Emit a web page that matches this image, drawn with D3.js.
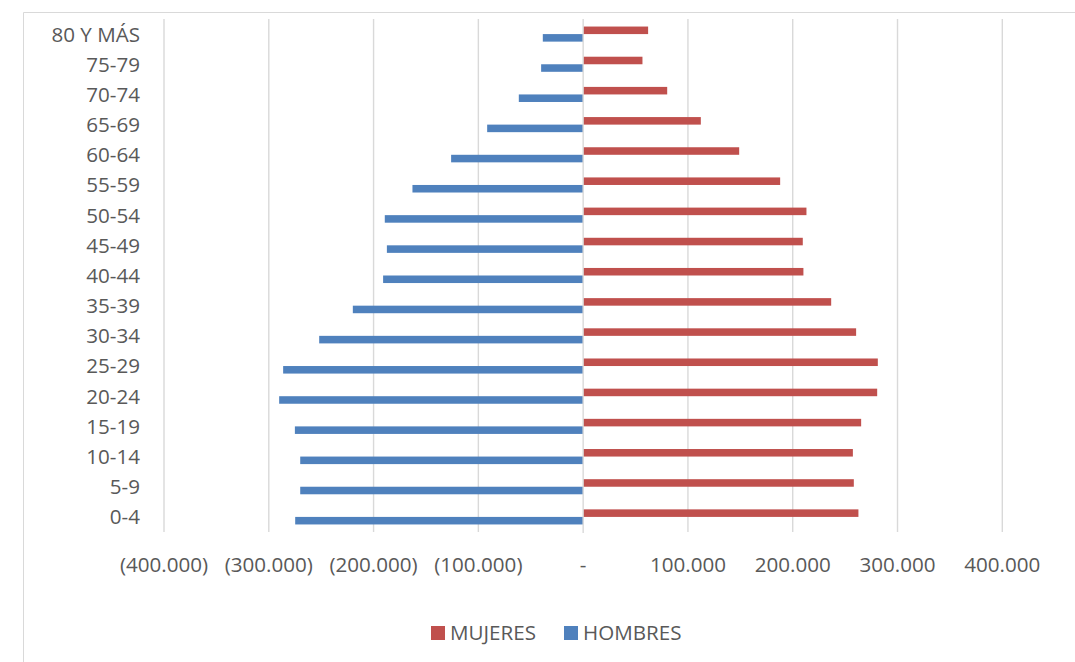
<!DOCTYPE html>
<html>
<head>
<meta charset="utf-8">
<script src="https://cdn.jsdelivr.net/npm/d3@7"></script>
<style>
  body { margin: 0; background: #fff; }
  svg { display: block; }
  text { font-family: "Open Sans", "Liberation Sans", sans-serif; fill: #595959; }
</style>
</head>
<body>
<div id="chart"></div>
<script>
// age groups, top row first
const ageGroups = ["80 Y MÁS", "75-79", "70-74", "65-69", "60-64", "55-59", "50-54", "45-49",
    "40-44", "35-39", "30-34", "25-29", "20-24", "15-19", "10-14", "5-9", "0-4"];

const mujeres = [62000, 56600, 80200, 112300, 148900, 188000, 213100, 209600,
    210200, 236700, 260500, 281200, 280600, 265300, 257400, 258300, 262700];

// men drawn to the left (negative)
const hombres = [-38500, -40100, -61400, -91600, -126000, -162900, -189300, -187300,
    -190900, -219800, -251900, -286300, -290100, -275100, -270000, -270000, -274800];

const series = ["MUJERES", "HOMBRES"];
const seriesColors = ["#C0504D", "#4F81BD"];
const xTicks = [-400000, -300000, -200000, -100000, 0, 100000, 200000, 300000, 400000];

const width = 1075, height = 662;
const fontSize = "20.6px";

const svg = d3.select("#chart").append("svg")
    .attr("width", width)
    .attr("height", height);

// chart area frame (only top and left edges are visible in the picture)
svg.append("line")
    .attr("x1", 23.5).attr("x2", width).attr("y1", 12.5).attr("y2", 12.5)
    .attr("stroke", "#d9d9d9");
svg.append("line")
    .attr("x1", 23.5).attr("x2", 23.5).attr("y1", 12.5).attr("y2", height)
    .attr("stroke", "#d9d9d9");

const x = d3.scaleLinear()
    .domain([-400000, 400000])
    .range([164, 1002.3]);

const y = d3.scaleBand()
    .domain(ageGroups)
    .range([19, 532]);

const ySub = d3.scaleBand()
    .domain(series)
    .range([0, y.bandwidth()])
    .paddingOuter(1);

const fmt = d => {
    if (d === 0) return "-";
    const s = d3.format(",")(Math.abs(d)).replace(/,/g, ".");
    return d < 0 ? `(${s})` : s;
};

// gridlines
svg.append("g")
    .selectAll("line")
    .data(xTicks.filter(d => d !== 0))
    .enter()
    .append("line")
    .attr("x1", d => x(d)).attr("x2", d => x(d))
    .attr("y1", 19).attr("y2", 532)
    .attr("stroke", "#d9d9d9")
    .attr("stroke-width", 1.4);

// tick labels
svg.append("g")
    .selectAll("text")
    .data(xTicks)
    .enter()
    .append("text")
    .attr("x", d => x(d))
    .attr("y", 572)
    .attr("text-anchor", "middle")
    .style("font-size", fontSize)
    .text(fmt);

// bars
const rows = ageGroups.map((g, i) => ({ g, m: mujeres[i], h: hombres[i] }));

svg.append("g")
    .selectAll("rect")
    .data(rows)
    .enter()
    .append("rect")
    .attr("x", d => x(0))
    .attr("y", d => y(d.g) + ySub("MUJERES"))
    .attr("width", d => x(d.m) - x(0))
    .attr("height", ySub.bandwidth())
    .attr("fill", seriesColors[0]);

svg.append("g")
    .selectAll("rect")
    .data(rows)
    .enter()
    .append("rect")
    .attr("x", d => x(d.h))
    .attr("y", d => y(d.g) + ySub("HOMBRES"))
    .attr("width", d => x(0) - x(d.h))
    .attr("height", ySub.bandwidth())
    .attr("fill", seriesColors[1]);

// vertical category axis at zero
svg.append("line")
    .attr("x1", x(0)).attr("x2", x(0))
    .attr("y1", 19).attr("y2", 533)
    .attr("stroke", "#d9d9d9")
    .attr("stroke-width", 1.4);

// category labels
svg.append("g")
    .selectAll("text")
    .data(ageGroups)
    .enter()
    .append("text")
    .attr("x", 140)
    .attr("y", d => y(d) + y.bandwidth() / 2)
    .attr("dy", "0.36em")
    .attr("text-anchor", "end")
    .style("font-size", fontSize)
    .text(d => d);

// legend
const legendX = [431, 564];
const legend = svg.append("g");
series.forEach((s, i) => {
    legend.append("rect")
        .attr("x", legendX[i]).attr("y", 626)
        .attr("width", 14).attr("height", 14)
        .attr("fill", seriesColors[i]);
    legend.append("text")
        .attr("x", legendX[i] + 19)
        .attr("y", 633)
        .attr("dy", "0.36em")
        .style("font-size", fontSize)
        .text(s);
});
</script>
</body>
</html>
